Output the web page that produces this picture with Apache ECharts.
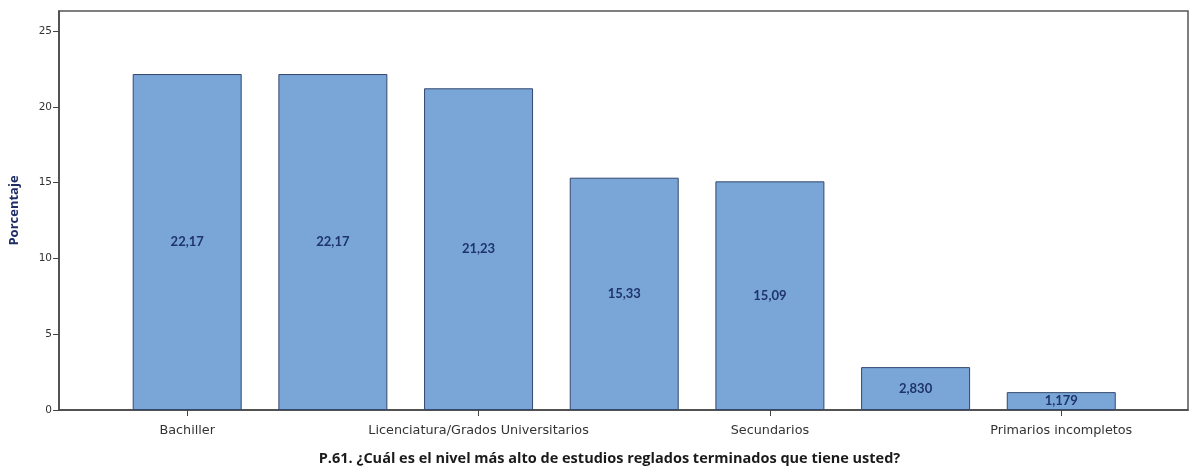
<!DOCTYPE html>
<html><head><meta charset="utf-8">
<script src="https://cdn.jsdelivr.net/npm/echarts@6/dist/echarts.min.js"></script>
<style>html,body{margin:0;padding:0;background:#fff}#c{width:1191px;height:468px}</style>
</head><body><div id="c"></div>
<script>
const categories = ["Bachiller", "(categoría 2)", "Licenciatura/Grados Universitarios", "(categoría 4)", "Secundarios", "(categoría 6)", "Primarios incompletos"];
const values = [22.17, 22.17, 21.23, 15.33, 15.09, 2.830, 1.179];
const xLabelPositions = [0, 2, 4, 6];
const yTicks = [0, 5, 10, 15, 20, 25];

const chart = echarts.init(document.getElementById('c'));
chart.setOption({
  backgroundColor: '#fff',
  animation: false,
  grid: { left: 59, top: 11, right: 3, bottom: 58, outerBoundsMode: 'none', containLabel: false, show: true, borderColor: '#555', borderWidth: 1.5, backgroundColor: 'transparent' },
  xAxis: {
    type: 'value', min: -0.88, max: 6.87,
    axisLine: { show: true, onZero: false, lineStyle: { color: '#444', width: 1.5 } },
    splitLine: { show: false },
    axisTick: { show: true, customValues: xLabelPositions, length: 6, lineStyle: { color: '#444' } },
    axisLabel: { customValues: xLabelPositions, formatter: v => categories[Math.round(v)] || '', color: '#333', fontFamily: 'DejaVu Sans', fontSize: 12.8, margin: 14 },
    name: 'P.61. ¿Cuál es el nivel más alto de estudios reglados terminados que tiene usted?',
    nameLocation: 'middle', nameGap: 41,
    nameTextStyle: { fontFamily: 'Open Sans', fontWeight: 'bold', fontSize: 14.5, color: '#1a1a1a', padding: [0, 28, 0, 0] }
  },
  yAxis: {
    type: 'value', min: 0, max: 26.33,
    axisLine: { show: true, onZero: false, lineStyle: { color: '#444', width: 1.5 } },
    splitLine: { show: false },
    axisTick: { show: true, customValues: yTicks, length: 6, lineStyle: { color: '#444' } },
    axisLabel: { customValues: yTicks, color: '#333', fontFamily: 'DejaVu Sans', fontSize: 10.5, margin: 7 },
    name: 'Porcentaje', nameLocation: 'middle', nameGap: 38, nameRotate: 90,
    nameTextStyle: { fontFamily: 'Open Sans', fontWeight: 'bold', fontSize: 13, color: '#1f2d66' }
  },
  series: [{
    type: 'bar',
    data: values.map((v, i) => [i, v]),
    barWidth: 109,
    itemStyle: { color: '#79a6d7', borderColor: '#34476e', borderWidth: 1 },
    label: {
      show: true, position: 'inside',
      formatter: p => p.value[1].toPrecision(4).replace('.', ','),
      fontFamily: 'Lato', fontWeight: 'bold', fontSize: 13, color: '#1f3468'
    }
  }]
});
</script></body></html>
